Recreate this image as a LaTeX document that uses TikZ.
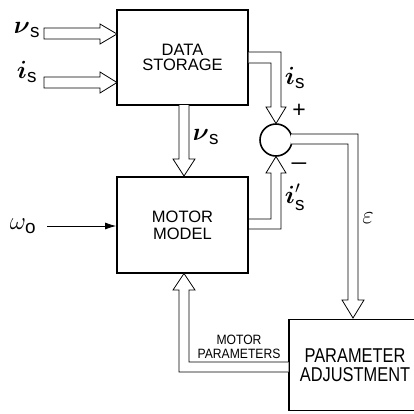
\documentclass[tikz,border=0pt]{standalone}
\usepackage{amsmath}
\usepackage{fontspec}
\setmainfont{Liberation Sans}
\usetikzlibrary{arrows.meta,calc}
\newcommand{\cnd}[2]{\scalebox{#1}[1]{#2}}
\begin{document}
\begin{tikzpicture}[x=1pt,y=-1pt,
  block/.style={draw, line width=1.6pt, inner sep=0pt, fill=white, align=center},
  hollow/.style={draw, line width=0.8pt, fill=white, line join=miter},
  sig/.style={line width=0.8pt, -{Latex[length=11pt,width=7pt]}},
  lbl/.style={inner sep=0pt, font=\fontsize{27}{28}\selectfont},
  sgn/.style={inner sep=0pt, font=\fontsize{23}{25}\selectfont}]
\useasboundingbox (0,0) rectangle (414,413);

% blocks
\node[block, minimum width=131pt, minimum height=95pt, font=\fontsize{16.5}{15}\selectfont] (ds) at (182.5,57.5) {DATA\\STORAGE};
\node[block, minimum width=131pt, minimum height=96pt, font=\fontsize{16.5}{17}\selectfont] (mm) at (182.5,225) {MOTOR\\MODEL};
\node[block, minimum width=132pt, minimum height=91pt, font=\fontsize{20}{18.5}\selectfont] (pa) at (355,365) {\cnd{0.82}{PARAMETER}\\\cnd{0.82}{ADJUSTMENT}};
\node[draw, circle, line width=1.6pt, minimum size=32pt, inner sep=0pt] (sum) at (276,140) {};

% input hollow arrows
\draw[hollow] (44,28) -- (100,28) -- (100,24) -- (117,34) -- (100,44) -- (100,39) -- (44,39) -- cycle;
\draw[hollow] (44,77) -- (100,77) -- (100,72) -- (117,82.5) -- (100,93) -- (100,88) -- (44,88) -- cycle;
\node[lbl] (lv) at (27,30) {$\boldsymbol{\nu}_{\mathrm{s}}$};
\node[lbl] (li) at (27,72) {$\boldsymbol{i}_{\mathrm{s}}$};

% data storage -> motor model
\draw[hollow] (179,105) -- (179,159) -- (173,159) -- (184,176) -- (195,159) -- (189,159) -- (189,105);
\node[lbl] (lv2) at (206,137) {$\boldsymbol{\nu}_{\mathrm{s}}$};

% data storage -> sum
\draw[hollow] (248.5,52) -- (281,52) -- (281,107) -- (286,107) -- (276,123.5) -- (266,107) -- (271,107) -- (271,63) -- (248.5,63);
\node[lbl] (li2) at (295,78) {$\boldsymbol{i}_{\mathrm{s}}$};
\node[sgn] (plus) at (299,111) {+};

% motor model -> sum
\draw[hollow] (249,229) -- (281,229) -- (281,173) -- (286,173) -- (276,156.5) -- (266,173) -- (271,173) -- (271,219) -- (249,219);
\node[sgn] (minus) at (299,166) {\cnd{1.15}{–}};
\node[lbl] (li3) at (295,197) {$\boldsymbol{i}'_{\mathrm{s}}$};

% sum -> parameter adjustment
\draw[hollow] (291,134) -- (358,134) -- (358,300) -- (364,300) -- (353,318) -- (342,300) -- (348,300) -- (348,144) -- (291,144);
\node[font=\fontsize{25}{26}\selectfont, inner sep=0pt] (le) at (368,218) {$\varepsilon$};

% parameter adjustment -> motor model
\draw[hollow] (288.5,372) -- (179,372) -- (179,290) -- (173,290) -- (184,273.5) -- (195,290) -- (189,290) -- (189,362) -- (288.5,362);
\node[font=\fontsize{13.5}{14}\selectfont, align=center, inner sep=0pt] (mp) at (239,346.5) {\cnd{0.9}{MOTOR}\\\cnd{0.9}{PARAMETERS}};

% omega input
\node[lbl] (lw) at (23,226) {$\omega_{\mathrm{o}}$};
\coordinate (w0) at (47,226);
\draw[sig] (w0) -- (w0 -| mm.west);
\end{tikzpicture}
\end{document}
